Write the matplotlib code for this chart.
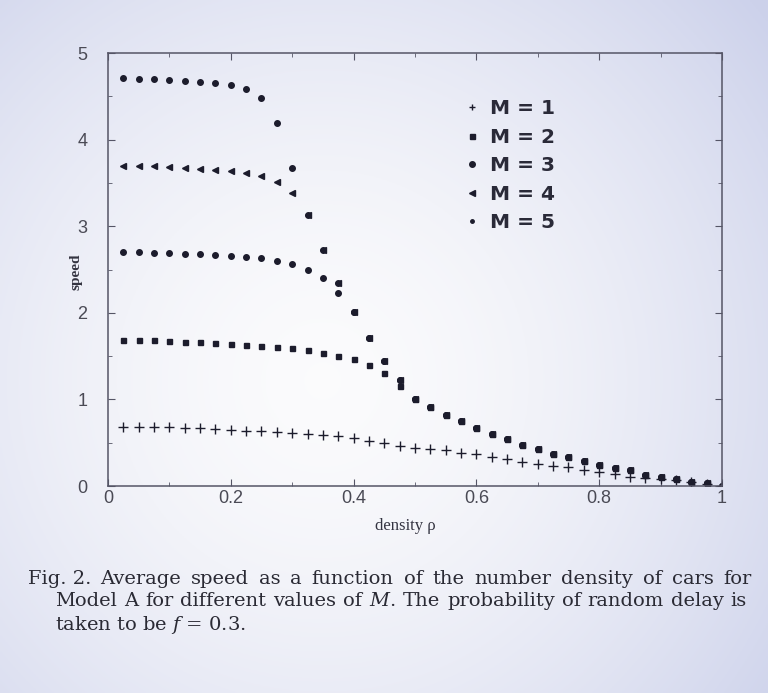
import matplotlib
matplotlib.use("Agg")
import matplotlib.pyplot as plt
import numpy as np

plt.rcParams["font.family"] = ["Liberation Sans", "DejaVu Sans"]
plt.rcParams["mathtext.fontset"] = "custom"
plt.rcParams["mathtext.it"] = "DejaVu Serif:italic"
plt.rcParams["mathtext.rm"] = "DejaVu Serif"

# density of cars
rho = [0.025, 0.05, 0.075, 0.1, 0.125, 0.15, 0.175, 0.2, 0.225, 0.25,
       0.275, 0.3, 0.325, 0.35, 0.375, 0.4, 0.425, 0.45, 0.475, 0.5,
       0.525, 0.55, 0.575, 0.6, 0.625, 0.65, 0.675, 0.7, 0.725, 0.75,
       0.775, 0.8, 0.825, 0.85, 0.875, 0.9, 0.925, 0.95, 0.975, 1.0]

speed_m1 = [0.684, 0.682, 0.679, 0.677, 0.670, 0.668, 0.654, 0.652, 0.638, 0.635,
            0.620, 0.607, 0.596, 0.587, 0.573, 0.550, 0.520, 0.495, 0.465, 0.444,
            0.430, 0.410, 0.378, 0.365, 0.334, 0.310, 0.280, 0.250, 0.230, 0.214,
            0.190, 0.163, 0.134, 0.108, 0.095, 0.080, 0.065, 0.045, 0.025, 0.0]

speed_m2 = [1.688, 1.685, 1.683, 1.677, 1.667, 1.664, 1.653, 1.640, 1.630, 1.620,
            1.605, 1.590, 1.573, 1.540, 1.506, 1.465, 1.400, 1.305, 1.160, 1.000,
            0.910, 0.820, 0.745, 0.665, 0.605, 0.545, 0.472, 0.430, 0.375, 0.333,
            0.290, 0.240, 0.210, 0.180, 0.130, 0.100, 0.085, 0.050, 0.030, 0.0]

speed_m3 = [2.700, 2.697, 2.690, 2.690, 2.680, 2.680, 2.670, 2.660, 2.650, 2.630,
            2.595, 2.560, 2.500, 2.400, 2.230, 2.006, 1.710, 1.440, 1.220, 1.000,
            0.910, 0.820, 0.745, 0.665, 0.605, 0.545, 0.472, 0.430, 0.375, 0.333,
            0.290, 0.240, 0.210, 0.180, 0.130, 0.100, 0.085, 0.050, 0.030, 0.0]

speed_m4 = [3.695, 3.690, 3.690, 3.680, 3.670, 3.660, 3.650, 3.640, 3.620, 3.580,
            3.510, 3.380, 3.130, 2.720, 2.340, 2.006, 1.710, 1.440, 1.220, 1.000,
            0.910, 0.820, 0.745, 0.665, 0.605, 0.545, 0.472, 0.430, 0.375, 0.333,
            0.290, 0.240, 0.210, 0.180, 0.130, 0.100, 0.085, 0.050, 0.030, 0.0]

speed_m5 = [4.710, 4.704, 4.700, 4.690, 4.680, 4.670, 4.650, 4.630, 4.580, 4.480,
            4.190, 3.670, 3.130, 2.720, 2.340, 2.006, 1.710, 1.440, 1.220, 1.000,
            0.910, 0.820, 0.745, 0.665, 0.605, 0.545, 0.472, 0.430, 0.375, 0.333,
            0.290, 0.240, 0.210, 0.180, 0.130, 0.100, 0.085, 0.050, 0.030, 0.0]

x_ticks = [0, 0.2, 0.4, 0.6, 0.8, 1]
x_tick_labels = ["0", "0.2", "0.4", "0.6", "0.8", "1"]
y_ticks = [0, 1, 2, 3, 4, 5]

ink = "#1c1c2c"

fig = plt.figure(figsize=(7.68, 6.93), dpi=100)

# scanned page look: pale bluish paper, brighter in the middle
bg = fig.add_axes([0, 0, 1, 1], zorder=0)
gx, gy = np.meshgrid(np.linspace(0, 1, 300), np.linspace(0, 1, 300))
d = np.sqrt(((gx - 0.42) / 0.75) ** 2 + ((gy - 0.55) / 0.85) ** 2)
t = np.clip(d, 0, 1) ** 1.6
paper = np.array([0.985, 0.985, 0.99])
blue = np.array([0.80, 0.82, 0.92])
img = paper[None, None, :] * (1 - t[..., None]) + blue[None, None, :] * t[..., None]
bg.imshow(img, extent=[0, 1, 0, 1], aspect="auto", origin="upper")
bg.axis("off")

ax = fig.add_axes([0.1406, 0.2987, 0.7995, 0.6248], zorder=1)
ax.patch.set_alpha(0)

ax.plot(rho, speed_m1, ls="none", marker="+", ms=6.5, mew=1.0, color=ink, label="M = 1")
ax.plot(rho, speed_m2, ls="none", marker="s", ms=3.6, color=ink, label="M = 2")
ax.plot(rho, speed_m3, ls="none", marker="o", ms=4, color=ink, label="M = 3")
ax.plot(rho, speed_m4, ls="none", marker="<", ms=4.5, color=ink, label="M = 4")
ax.plot(rho, speed_m5, ls="none", marker="o", ms=4, color=ink, label="M = 5")

ax.set_xlim(0, 1)
ax.set_ylim(0, 5)
ax.set_xticks(x_ticks)
ax.set_xticklabels(x_tick_labels)
ax.set_yticks(y_ticks)
ax.set_xticks([0.1, 0.3, 0.5, 0.7, 0.9], minor=True)
ax.set_yticks([0.5, 1.5, 2.5, 3.5, 4.5], minor=True)
ax.tick_params(which="both", direction="in", top=True, right=True, color="#555566")
ax.tick_params(which="major", length=5, labelsize=13, labelcolor="#4a4a55")
ax.tick_params(which="minor", length=3)
ax.tick_params(axis="x", pad=3)
ax.tick_params(axis="y", pad=15)
for s in ax.spines.values():
    s.set_color("#555566")
    s.set_linewidth(1.1)

ax.set_xlabel("density \u03c1", family="Liberation Serif", fontsize=12, color="#333340")
ax.xaxis.set_label_coords(0.484, -0.074)
ax.set_ylabel("speed", family="Liberation Serif", fontsize=11, fontweight="bold", color="#333340")
ax.yaxis.set_label_coords(-0.041, 0.494)

leg = ax.legend(loc="upper left", bbox_to_anchor=(0.55, 0.935), frameon=False,
                handlelength=0.8, handletextpad=0.5, labelspacing=0.47,
                prop={"family": "DejaVu Sans", "weight": "bold", "size": 14.5})
for txt in leg.get_texts():
    txt.set_color("#2a2a38")
leg.legend_handles[4].set_markersize(2.5)
leg.legend_handles[0].set_markersize(5)

# caption, first two lines justified like the printed page
cap = dict(family="DejaVu Serif", fontsize=14, color="#2a2a34")
W, H = 768, 693
renderer = fig.canvas.get_renderer()


def justified(words, x0, x1, ybase):
    items = [fig.text(0, ybase, w, **cap) for w in words]
    widths = [it.get_window_extent(renderer).width for it in items]
    gap = (x1 - x0 - sum(widths)) / (len(words) - 1)
    x = x0
    for it, w in zip(items, widths):
        it.set_x(x / W)
        x += w + gap


fig.text(28 / W, 0.158, "Fig. 2.", **cap)
justified("Average speed as a function of the number density of cars for".split(),
          100, 752, 0.158)
justified("Model A for different values of $M$. The probability of random delay is".split(),
          55, 747, 0.1255)
fig.text(55 / W, 0.091, "taken to be $f$ = 0.3.", **cap)

fig.savefig("out.png", dpi=100)
